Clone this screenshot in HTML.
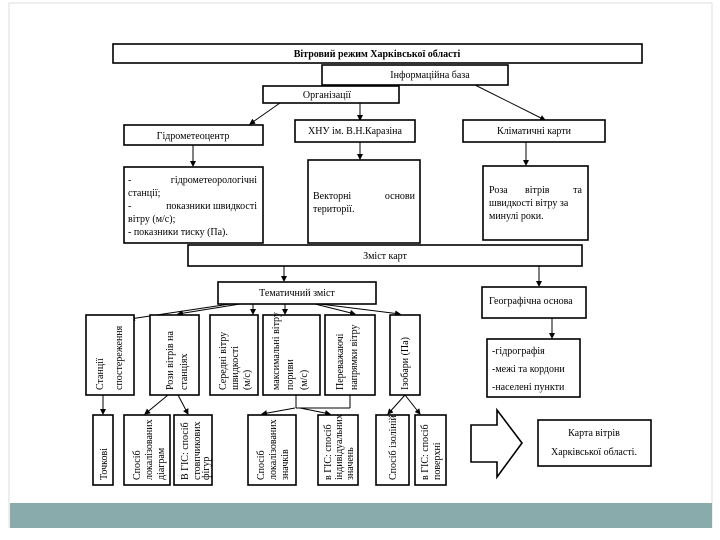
<!DOCTYPE html>
<html><head><meta charset="utf-8"><style>
body{margin:0;background:#fff}
svg{display:block}
text{font-family:"Liberation Serif",serif;font-size:10px;fill:#000}
.b{fill:#fff;stroke:#000;stroke-width:1.6}
.l{stroke:#000;stroke-width:1;fill:none}
</style></head><body>
<svg width="720" height="540" viewBox="0 0 720 540" xmlns="http://www.w3.org/2000/svg">
<defs><marker id="a" markerWidth="6" markerHeight="6" refX="5" refY="3" orient="auto"><path d="M0,0 L6,3 L0,6 z" fill="#000"/></marker></defs>
<rect x="9" y="3" width="703" height="524" fill="none" stroke="#ddd"/>
<rect x="10" y="503" width="702" height="25" fill="#8aabab"/>
<g class="l" marker-end="url(#a)">
<line x1="280" y1="103" x2="250" y2="124"/>
<line x1="360" y1="103" x2="360" y2="120"/>
<line x1="475" y1="85" x2="545" y2="120"/>
<line x1="193" y1="145" x2="193" y2="166"/>
<line x1="360" y1="142" x2="360" y2="159"/>
<line x1="526" y1="142" x2="526" y2="165"/>
<line x1="284" y1="266" x2="284" y2="281"/>
<line x1="539" y1="266" x2="539" y2="286"/>
<line x1="552" y1="318" x2="552" y2="338"/>
<line x1="230" y1="304" x2="130" y2="319"/>
<line x1="240" y1="304" x2="178" y2="314"/>
<line x1="253" y1="304" x2="253" y2="314"/>
<line x1="285" y1="304" x2="285" y2="314"/>
<line x1="315" y1="304" x2="355" y2="314"/>
<line x1="320" y1="304" x2="400" y2="314"/>
<line x1="103" y1="395" x2="103" y2="414"/>
<line x1="168" y1="395" x2="145" y2="414"/>
<line x1="178" y1="395" x2="188" y2="414"/>
<line x1="295" y1="408" x2="262" y2="414"/>
<line x1="300" y1="408" x2="330" y2="414"/>
<line x1="405" y1="395" x2="388" y2="414"/>
<line x1="405" y1="395" x2="420" y2="414"/>
</g>
<g class="l">
<line x1="296" y1="395" x2="296" y2="408"/><line x1="350" y1="395" x2="350" y2="408"/><line x1="296" y1="408" x2="350" y2="408"/>
</g>
<rect class="b" x="113" y="44" width="529" height="19"/>
<text x="377" y="57" text-anchor="middle" font-weight="bold">Вітровий режим Харківської області</text>
<rect class="b" x="322" y="65" width="186" height="20"/>
<text x="430" y="78" text-anchor="middle">Інформаційна база</text>
<rect class="b" x="263" y="86" width="136" height="17"/>
<text x="327" y="98" text-anchor="middle">Організації</text>
<rect class="b" x="124" y="125" width="139" height="20"/>
<text x="193" y="139" text-anchor="middle">Гідрометеоцентр</text>
<rect class="b" x="295" y="120" width="120" height="22"/>
<text x="355" y="134" text-anchor="middle">ХНУ ім. В.Н.Каразіна</text>
<rect class="b" x="463" y="120" width="142" height="22"/>
<text x="534" y="134" text-anchor="middle">Кліматичні карти</text>
<rect class="b" x="124" y="167" width="139" height="76"/>
<text x="128" y="183">-</text><text x="257" y="183" text-anchor="end">гідрометеорологічні</text>
<text x="128" y="196">станції;</text>
<text x="128" y="209">-</text><text x="257" y="209" text-anchor="end">показники швидкості</text>
<text x="128" y="222">вітру (м/с);</text>
<text x="128" y="235">- показники тиску (Па).</text>
<rect class="b" x="308" y="160" width="112" height="83"/>
<text x="313" y="199">Векторні</text><text x="415" y="199" text-anchor="end">основи</text>
<text x="313" y="212">території.</text>
<rect class="b" x="483" y="166" width="105" height="74"/>
<text x="489" y="193">Роза</text><text x="525" y="193">вітрів</text><text x="582" y="193" text-anchor="end">та</text>
<text x="489" y="206">швидкості вітру за</text>
<text x="489" y="219">минулі роки.</text>
<rect class="b" x="188" y="245" width="394" height="21"/>
<text x="385" y="259" text-anchor="middle">Зміст карт</text>
<rect class="b" x="218" y="282" width="158" height="22"/>
<text x="297" y="296" text-anchor="middle">Тематичний зміст</text>
<rect class="b" x="482" y="287" width="104" height="31"/>
<text x="489" y="304">Географічна основа</text>
<rect class="b" x="487" y="339" width="93" height="58"/>
<text x="492" y="354">-гідрографія</text>
<text x="492" y="372">-межі та кордони</text>
<text x="492" y="390">-населені пункти</text>
<path class="b" d="M471,425 H497 V410 L522,443 L497,477 V462 H471 Z"/>
<rect class="b" x="538" y="420" width="113" height="46"/>
<text x="594" y="436" text-anchor="middle">Карта вітрів</text>
<text x="594" y="455" text-anchor="middle">Харківської області.</text>
<rect class="b" x="86" y="315" width="48" height="80"/>
<rect class="b" x="150" y="315" width="49" height="80"/>
<rect class="b" x="210" y="315" width="48" height="80"/>
<rect class="b" x="263" y="315" width="57" height="80"/>
<rect class="b" x="325" y="315" width="50" height="80"/>
<rect class="b" x="390" y="315" width="30" height="80"/>
<g font-size="9">
<text transform="translate(103,390) rotate(-90)">Станції</text>
<text transform="translate(122,390) rotate(-90)">спостереження</text>
<text transform="translate(173,390) rotate(-90)">Рози вітрів на</text>
<text transform="translate(187,390) rotate(-90)">станціях</text>
<text transform="translate(226,390) rotate(-90)">Середні вітру</text>
<text transform="translate(238,390) rotate(-90)">швидкості</text>
<text transform="translate(250,390) rotate(-90)">(м/с)</text>
<text transform="translate(279,390) rotate(-90)">максимальні вітру</text>
<text transform="translate(293,390) rotate(-90)">пориви</text>
<text transform="translate(307,390) rotate(-90)">(м/с)</text>
<text transform="translate(343,390) rotate(-90)">Переважаючі</text>
<text transform="translate(357,390) rotate(-90)">напрямки вітру</text>
<text transform="translate(408,390) rotate(-90)">Ізобари (Па)</text>
</g>
<rect class="b" x="93" y="415" width="20" height="70"/>
<rect class="b" x="124" y="415" width="46" height="70"/>
<rect class="b" x="174" y="415" width="38" height="70"/>
<rect class="b" x="248" y="415" width="48" height="70"/>
<rect class="b" x="318" y="415" width="40" height="70"/>
<rect class="b" x="376" y="415" width="33" height="70"/>
<rect class="b" x="415" y="415" width="31" height="70"/>
<g font-size="9">
<text transform="translate(107,480) rotate(-90)">Точкові</text>
<text transform="translate(140,480) rotate(-90)">Спосіб</text>
<text transform="translate(152,480) rotate(-90)">локалізованих</text>
<text transform="translate(164,480) rotate(-90)">діаграм</text>
<text transform="translate(188,480) rotate(-90)">В ГІС: спосіб</text>
<text transform="translate(200,480) rotate(-90)">стовпчикових</text>
<text transform="translate(209,480) rotate(-90)">фігур</text>
<text transform="translate(264,480) rotate(-90)">Спосіб</text>
<text transform="translate(276,480) rotate(-90)">локалізованих</text>
<text transform="translate(288,480) rotate(-90)">значків</text>
<text transform="translate(331,480) rotate(-90)">в ГІС: спосіб</text>
<text transform="translate(342,480) rotate(-90)">індивідуальних</text>
<text transform="translate(353,480) rotate(-90)">значень</text>
<text transform="translate(396,480) rotate(-90)">Спосіб ізоліній</text>
<text transform="translate(428,480) rotate(-90)">в ГІС: спосіб</text>
<text transform="translate(440,480) rotate(-90)">поверхні</text>
</g>
</svg>
</body></html>
